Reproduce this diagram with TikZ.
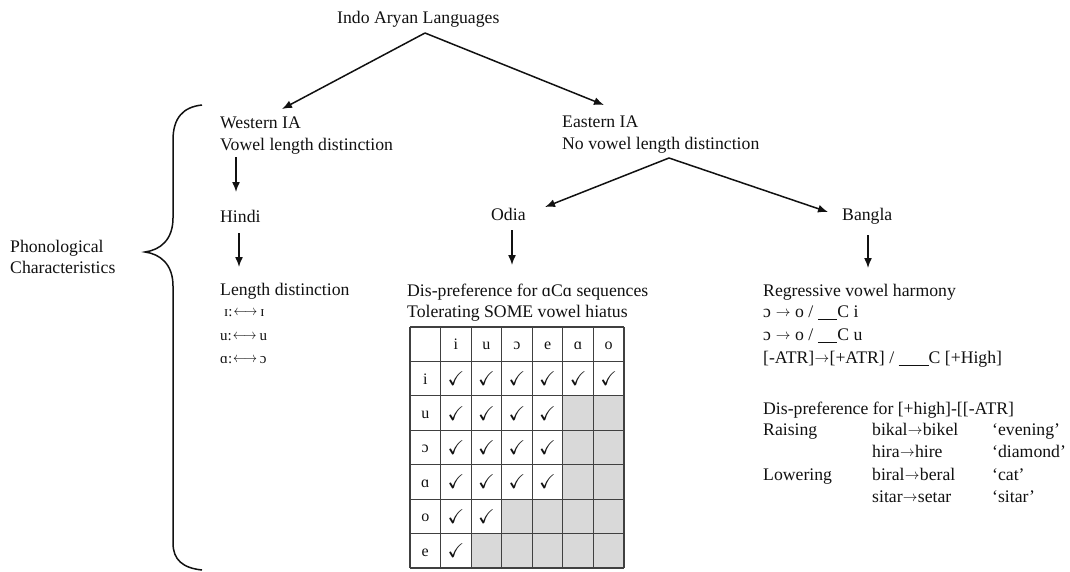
\documentclass[tikz,border=0pt]{standalone}
\usepackage{fontspec}
\usepackage{amssymb}
\setmainfont{Liberation Serif}
\usetikzlibrary{arrows.meta}
\definecolor{ink}{HTML}{111111}
\definecolor{cellgrey}{HTML}{D9D9D9}
\newcommand{\myto}{\kern0.3pt\raisebox{0.05ex}{\scalebox{0.85}{$\rightarrow$}}\kern0.3pt}
\newcommand{\mylr}{\kern1pt\raisebox{0.05ex}{\scalebox{0.9}[1]{$\longleftrightarrow$}}\kern3pt}
\begin{document}
\begin{tikzpicture}[x=1pt,y=-1pt,
 txt/.style={anchor=base west,inner sep=0pt,font=\fontsize{17.7}{21}\selectfont,text=ink},
 small/.style={anchor=base west,inner sep=0pt,font=\fontsize{15}{18}\selectfont,text=ink},
 arr/.style={-{Latex[length=10pt,width=8pt]},line width=1.5pt,draw=ink},
 cell/.style={anchor=base,inner sep=0pt,font=\fontsize{16}{18}\selectfont,text=ink},
 chk/.style={anchor=base,inner sep=0pt,font=\fontsize{20}{22}\selectfont,text=ink},
 gridline/.style={draw=black!75,line width=1.2pt},
 bracepath/.style={draw=ink,line width=1.5pt}]
\useasboundingbox (0,0) rectangle (1070,571);

% tree texts
\node[txt] (root) at (337,23) {Indo Aryan Languages};
\node[txt] (west) at (220,128) {Western IA};
\node[txt] (westb) at (220,150) {Vowel length distinction};
\node[txt] (east) at (562,127) {Eastern IA};
\node[txt] (eastb) at (562,149) {No vowel length distinction};
\node[txt] (hindi) at (220,222) {Hindi};
\node[txt] (odia) at (491,220) {Odia};
\node[txt] (bangla) at (842,220) {Bangla};

% connector end points
\coordinate (rootA) at (425,33);
\coordinate (westT) at (282,109);
\coordinate (eastT) at (604,105);
\coordinate (eastA) at (669,158);
\coordinate (odiaT) at (545,207);
\coordinate (banglaT) at (828,212);
\coordinate (wD1) at (236,157); \coordinate (wD2) at (236,192);
\coordinate (hD1) at (239,233); \coordinate (hD2) at (239,267);
\coordinate (oD1) at (512,230); \coordinate (oD2) at (512,265);
\coordinate (bD1) at (868,235); \coordinate (bD2) at (868,268);

\draw[arr] (rootA) -- (westT);
\draw[arr] (rootA) -- (eastT);
\draw[arr] (eastA) -- (odiaT);
\draw[arr] (eastA) -- (banglaT);
\draw[arr] (wD1) -- (wD2);
\draw[arr] (hD1) -- (hD2);
\draw[arr] (oD1) -- (oD2);
\draw[arr] (bD1) -- (bD2);

% brace
\draw[bracepath] (202,105) .. controls (183,107) and (173,118) .. (173,140)
  -- (173,218) .. controls (173,240) and (160,250) .. (145,252)
  .. controls (160,254) and (173,264) .. (173,286)
  -- (173,543) .. controls (173,560) and (183,568) .. (202,570);
\node[txt] (phon1) at (10,252) {Phonological};
\node[txt] (phon2) at (10,273) {Characteristics};

% Hindi block
\node[txt] (hlen) at (220,295) {Length distinction};
\node[small] (h1) at (224,316) {ɪ:\mylr ɪ};
\node[small] (h2) at (220,340) {u:\mylr u};
\node[small] (h3) at (220,363) {ɑ:\mylr ɔ};

% Odia block
\node[txt] (odis) at (407,296) {Dis-preference for ɑCɑ sequences};
\node[txt] (otol) at (407,317) {Tolerating SOME vowel hiatus};

% table
\fill[cellgrey] (562.86,395.86) rectangle (624,499.15);
\fill[cellgrey] (501.71,499.15) rectangle (624,533.57);
\fill[cellgrey] (471.14,533.57) rectangle (624,568);
\foreach \i in {0,...,7} {
  \draw[gridline] ({410+30.571*\i},327) -- ({410+30.571*\i},568);
  \draw[gridline] (410,{327+34.429*\i}) -- (624,{327+34.429*\i});
}
\foreach \v [count=\c] in {i,u,ɔ,e,ɑ,o}
  \node[cell] (hd\c) at ({410+30.571*\c+15.29},{327+17.2+5.5}) {\v};
\foreach \v [count=\r] in {i,u,ɔ,ɑ,o,e}
  \node[cell] (rw\r) at ({410+15.29},{327+34.429*\r+17.2+5.5}) {\v};
\foreach \r/\n in {1/6,2/4,3/4,4/4,5/2,6/1}
  \foreach \c in {1,...,\n}
    \node[chk] (ck\r\c) at ({410+30.571*\c+15.29},{327+34.429*\r+17.2+7}) {$\checkmark$};

% Bangla block
\node[txt] (breg) at (763,296) {Regressive vowel harmony};
\node[txt] (br1) at (763,317) {ɔ \myto{} o / \underline{\hspace{1.1em}}C i};
\node[txt] (br2) at (763,340) {ɔ \myto{} o / \underline{\hspace{1.1em}}C u};
\node[txt] (br3) at (763,363) {[-ATR]\myto[+ATR] / \underline{\hspace{1.7em}}C [+High]};
\node[txt] (bdis) at (763,414) {Dis-preference for [+high]-[[-ATR]};
\node[txt] (rais) at (763,435) {Raising};
\node[txt] (rais1) at (872,435) {bikal\myto bikel};
\node[txt] (rais1g) at (992,435) {‘evening’};
\node[txt] (rais2) at (872,457) {hira\myto hire};
\node[txt] (rais2g) at (992,457) {‘diamond’};
\node[txt] (low) at (763,480) {Lowering};
\node[txt] (low1) at (872,480) {biral\myto beral};
\node[txt] (low1g) at (992,480) {‘cat’};
\node[txt] (low2) at (872,502) {sitar\myto setar};
\node[txt] (low2g) at (992,502) {‘sitar’};
\end{tikzpicture}
\end{document}
